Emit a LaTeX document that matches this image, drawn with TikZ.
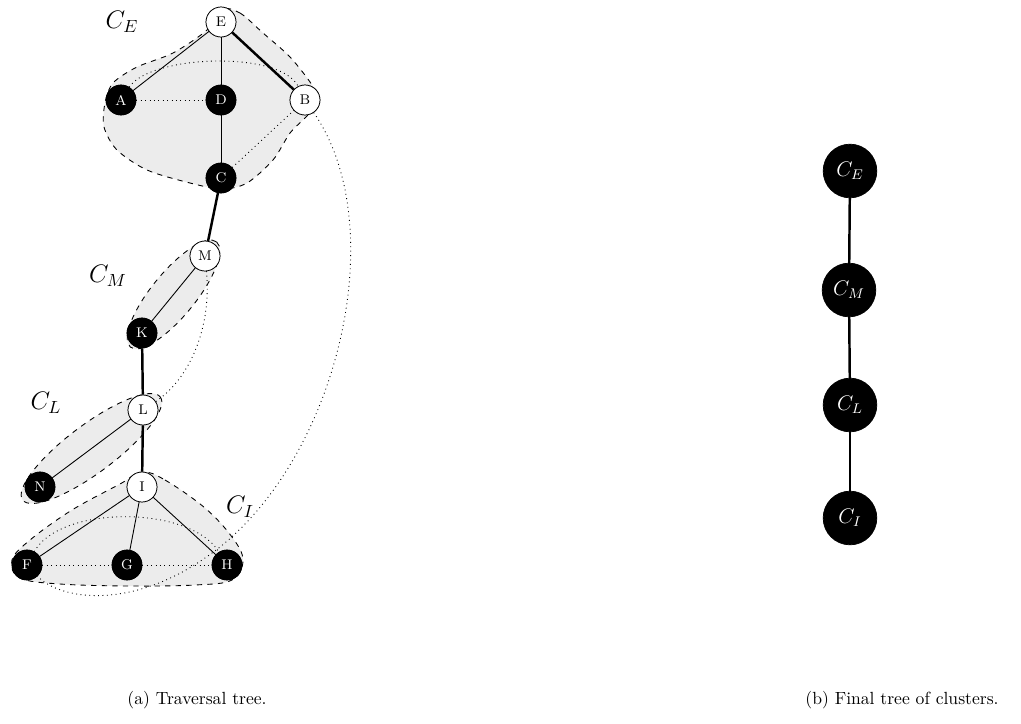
\documentclass[tikz,border=0pt]{standalone}
\begin{document}
\begin{tikzpicture}[x=0.5682pt,y=-0.5682pt,
  wnode/.style={circle,draw=black,fill=white,inner sep=0pt,minimum size=17pt,font=\footnotesize},
  bnode/.style={circle,draw=black,fill=black,text=white,inner sep=0pt,minimum size=17pt,font=\footnotesize},
  cnode/.style={circle,draw=black,fill=black,text=white,inner sep=0pt,minimum size=30.5pt,font=\large},
  cluster/.style={dashed,fill=gray!15,line width=0.5pt},
  tedge/.style={line width=1.4pt},
  sedge/.style={line width=0.5pt},
  dedge/.style={dotted,line width=0.5pt},
  clabel/.style={font=\Large}]
\useasboundingbox (0,0) rectangle (1021,723);

% ---- cluster regions ----
\draw[cluster] plot[smooth cycle,tension=0.5] coordinates {
  (221,9) (240,13) (263,33) (290,57) (312,85) (318,102) (305,118)
  (290,133) (273,160) (247,183) (222,189) (190,183) (147,170) (117,150)
  (104,127) (105,103) (113,83) (137,67) (173,53) (207,30)};
\draw[cluster,rotate around={50.7:(173.5,294.5)}] (173.5,294.5) ellipse (68 and 22);
\draw[cluster,rotate around={36.8:(91.5,448.5)}] (91.5,448.5) ellipse (86 and 24);
\draw[cluster] plot[smooth cycle,tension=0.6] coordinates {
  (142,472) (165,480) (205,508) (232,537) (243,560) (232,580) (195,585)
  (130,586) (60,584) (20,578) (12,560) (30,540) (72,510) (120,484)};

% ---- nodes ----
\node[wnode] (E) at (221,22) {E};
\node[bnode] (A) at (121,100) {A};
\node[bnode] (D) at (221,100) {D};
\node[wnode] (B) at (305,100) {B};
\node[bnode] (C) at (221,178) {C};
\node[wnode] (M) at (205,256) {M};
\node[bnode] (K) at (142,333) {K};
\node[wnode] (L) at (143,410) {L};
\node[bnode] (N) at (40,487) {N};
\node[wnode] (I) at (142,487) {I};
\node[bnode] (F) at (27,565) {F};
\node[bnode] (G) at (127,565) {G};
\node[bnode] (H) at (227,565) {H};

% ---- non-tree edges ----
\draw[dedge] (A) -- (D);
\draw[dedge] (F) -- (G);
\draw[dedge] (G) -- (H);
\draw[dedge] (C) -- (B);
\draw[dedge] (A) .. controls (150,55) and (280,50) .. (B);
\draw[dedge] (F) .. controls (60,505) and (190,505) .. (H);
\draw[dedge] (M) .. controls (212,330) and (188,380) .. (L);
\draw[dedge] (B) .. controls (395,230) and (335,470) .. (205,558)
                 .. controls (130,610) and (60,600) .. (F);

% ---- tree edges ----
\draw[sedge] (E) -- (A);
\draw[sedge] (E) -- (D);
\draw[sedge] (D) -- (C);
\draw[sedge] (M) -- (K);
\draw[sedge] (L) -- (N);
\draw[sedge] (I) -- (F);
\draw[sedge] (I) -- (G);
\draw[sedge] (I) -- (H);
\draw[tedge] (E) -- (B);
\draw[tedge] (C) -- (M);
\draw[tedge] (K) -- (L);
\draw[tedge] (L) -- (I);

% redraw nodes above the edges
\foreach \n/\s in {E/wnode,A/bnode,D/bnode,B/wnode,C/bnode,M/wnode,K/bnode,L/wnode,N/bnode,I/wnode,F/bnode,G/bnode,H/bnode}
  \node[\s] at (\n) {\n};

% ---- cluster labels ----
\node[clabel] (lE) at (122,22) {$C_E$};
\node[clabel] (lM) at (108,276) {$C_M$};
\node[clabel] (lL) at (46,403) {$C_L$};
\node[clabel] (lI) at (240,507) {$C_I$};

% ---- tree of clusters ----
\node[cnode] (CE) at (850,171) {$C_E$};
\node[cnode] (CM) at (849,290) {$C_M$};
\node[cnode] (CL) at (850,405) {$C_L$};
\node[cnode] (CI) at (850,518) {$C_I$};
\draw[tedge] (CE) -- (CM);
\draw[tedge] (CM) -- (CL);
\draw[tedge] (CL) -- (CI);

% ---- captions ----
\node (capa) at (197,700) {(a) Traversal tree.};
\node (capb) at (902,700) {(b) Final tree of clusters.};
\end{tikzpicture}
\end{document}
